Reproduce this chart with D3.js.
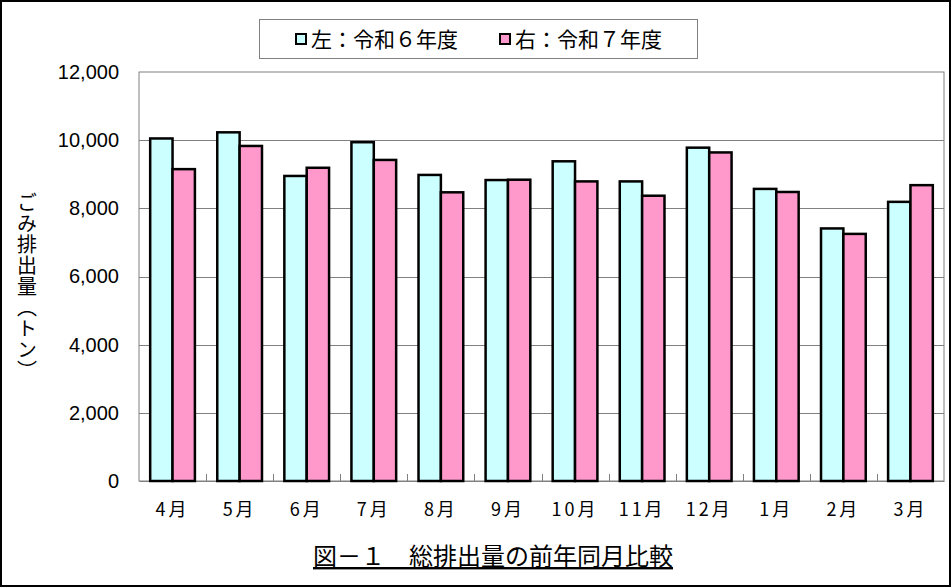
<html>
<head>
<meta charset="utf-8">
<script src="https://d3js.org/d3.v7.min.js"></script>
<style>
  body { margin: 0; background: #fff; }
  svg { display: block; }
  text { font-family: "Noto Sans CJK JP", sans-serif; fill: #000; }
  .num { font-family: "Liberation Sans", Arial, sans-serif; }
</style>
</head>
<body>
<svg id="chart" width="952" height="588"></svg>
<script>
// data
var months = ["4月","5月","6月","7月","8月","9月","10月","11月","12月","1月","2月","3月"];
var r6 = [10050, 10230, 8950, 9940, 8980, 8830, 9380, 8790, 9780, 8570, 7410, 8190];
var r7 = [9150, 9830, 9190, 9420, 8470, 8840, 8790, 8370, 9640, 8480, 7250, 8680];
var seriesNames = ["左：令和６年度", "右：令和７年度"];
var seriesColors = ["#ccffff", "#ff99cc"];
var yTicks = [0, 2000, 4000, 6000, 8000, 10000, 12000];

var svg = d3.select("#chart");
var W = 952, H = 588;
var m = {left: 139, top: 72, right: 944, bottom: 481};

// outer frame
svg.append("rect").attr("x", 1).attr("y", 1).attr("width", W - 3).attr("height", H - 3)
  .attr("fill", "#fff").attr("stroke", "#000").attr("stroke-width", 2);

var x = d3.scaleBand().domain(months).range([m.left, m.right]).paddingInner(0).paddingOuter(0);
var inner = d3.scaleBand().domain([0, 1]).range([0, x.bandwidth()]).paddingInner(0).paddingOuter(0.5);
var y = d3.scaleLinear().domain([0, 12000]).range([m.bottom, m.top]);

// plot area border
svg.append("rect").attr("x", m.left).attr("y", m.top)
  .attr("width", m.right - m.left).attr("height", m.bottom - m.top)
  .attr("fill", "none").attr("stroke", "#808080").attr("stroke-width", 1);

// gridlines
svg.append("g").selectAll("line").data(yTicks.slice(1, -1)).enter().append("line")
  .attr("x1", m.left).attr("x2", m.right)
  .attr("y1", function(d){ return Math.round(y(d)) + 0.5; })
  .attr("y2", function(d){ return Math.round(y(d)) + 0.5; })
  .attr("stroke", "#808080").attr("stroke-width", 1);

// y axis
var yAxis = svg.append("g").attr("transform", "translate(" + m.left + ",0)")
  .call(d3.axisLeft(y).tickValues(yTicks).tickSize(0).tickPadding(20).tickFormat(d3.format(",")));
yAxis.select(".domain").remove();
yAxis.selectAll("text").attr("class", "num").style("font-size", "20px").attr("fill", "#000");

// x axis
var xAxis = svg.append("g").attr("transform", "translate(0," + m.bottom + ")")
  .call(d3.axisBottom(x).tickSize(0).tickPadding(22));
xAxis.select(".domain").attr("stroke", "#808080");
xAxis.selectAll("text").style("font-size", "18px").style("letter-spacing", "3px")
  .style("font-family", "'Noto Sans CJK JP'").attr("fill", "#000");

// category tick marks
svg.append("g").selectAll("line").data(months.slice(1)).enter().append("line")
  .attr("x1", function(d){ return Math.round(x(d)) + 0.5; })
  .attr("x2", function(d){ return Math.round(x(d)) + 0.5; })
  .attr("y1", m.bottom - 7).attr("y2", m.bottom)
  .attr("stroke", "#808080");

// bars
var groups = svg.append("g").selectAll("g").data(months).enter().append("g")
  .attr("transform", function(d){ return "translate(" + x(d) + ",0)"; });
groups.selectAll("rect").data(function(d, i){ return [r6[i], r7[i]]; }).enter().append("rect")
  .attr("x", function(d, j){ return inner(j); })
  .attr("width", inner.bandwidth())
  .attr("y", function(d){ return y(d); })
  .attr("height", function(d){ return y(0) - y(d); })
  .attr("fill", function(d, j){ return seriesColors[j]; })
  .attr("stroke", "#000").attr("stroke-width", 2.5);

// legend
svg.append("rect").attr("x", 259.5).attr("y", 19.5).attr("width", 438).attr("height", 39)
  .attr("fill", "#fff").attr("stroke", "#808080");
var legX = [296, 500];
var leg = svg.append("g").selectAll("g").data(seriesNames).enter().append("g")
  .attr("transform", function(d, i){ return "translate(" + legX[i] + ",0)"; });
leg.append("rect").attr("x", 0).attr("y", 34).attr("width", 10).attr("height", 10)
  .attr("fill", function(d, i){ return seriesColors[i]; })
  .attr("stroke", "#000").attr("stroke-width", 2);
leg.append("text").attr("x", 15).attr("y", 47).style("font-size", "21px").text(function(d){ return d; });

// y axis title (vertical)
svg.append("text").attr("x", 27).attr("y", 192)
  .style("writing-mode", "vertical-rl").style("font-size", "20px").style("letter-spacing", "1px")
  .text("ごみ排出量（トン）");

// caption
svg.append("text").attr("x", 493).attr("y", 565).attr("text-anchor", "middle")
  .style("font-size", "24px").style("text-decoration", "underline")
  .text("図－１　総排出量の前年同月比較");
</script>
</body>
</html>
